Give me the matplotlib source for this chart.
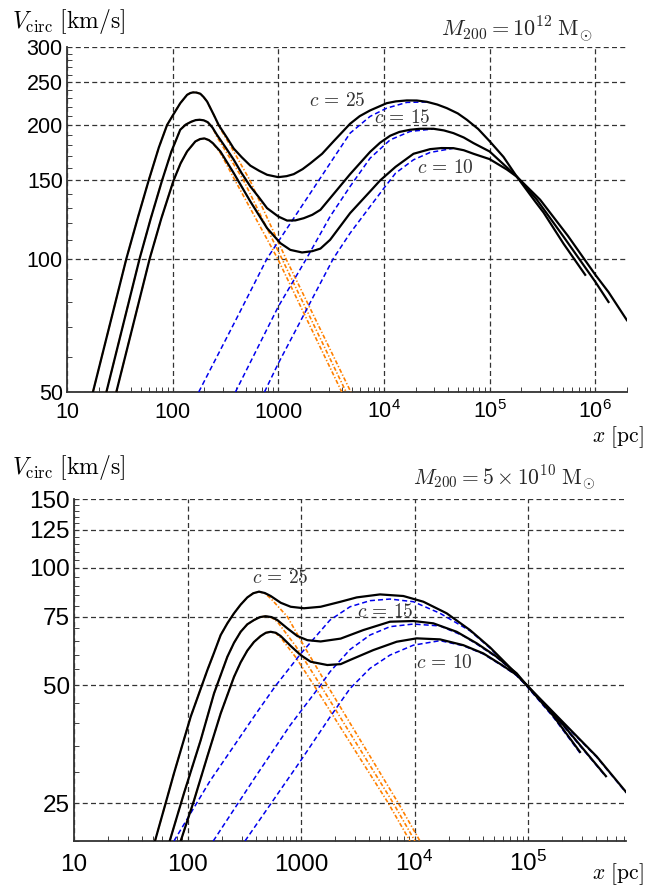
import math
import matplotlib
matplotlib.use("Agg")
import matplotlib.pyplot as plt
from matplotlib.ticker import FixedLocator, FuncFormatter, NullFormatter, LogLocator

plt.rcParams['font.family'] = ['Liberation Sans', 'DejaVu Sans']
plt.rcParams['mathtext.fontset'] = 'cm'

# ---------------- top panel: M200 = 1e12 Msun ----------------
# total rotation curves (x in pc, v in km/s)
top_c25_x = [17.6, 36.5, 47, 59.3, 74, 88.5, 100, 118, 137, 147, 156, 168, 183, 196, 212, 245, 273, 330, 379,
             450, 544, 660, 783, 1000, 1200, 1400, 1700, 2013, 2600, 3350, 4786, 5900, 7396, 10640, 13000,
             16480, 20500, 25470, 32000, 39380, 50000, 60940, 78000, 100000, 135500, 181100, 270000, 324300,
             501700, 804000]
top_c25_v = [50, 100, 124, 150, 178, 200, 210, 224, 234, 236.2, 237, 236.8, 235.3, 231.5, 226, 211, 200, 186.6,
             177, 169.3, 162, 157.7, 154.5, 152.6, 153.4, 155, 159.1, 164, 172.3, 184, 201.4, 209.5, 215.8,
             224.1, 226.2, 227.3, 227.2, 225.7, 222.5, 218.4, 212.5, 205.6, 196, 184, 169.5, 153, 134.5, 127,
             108, 91.9]
top_c15_x = [23.6, 48.7, 62, 79.4, 97, 118, 133, 150, 165, 180, 197, 215, 238, 263, 320, 379, 450, 544, 650,
             783, 1000, 1211, 1450, 1742, 2100, 2507, 3094, 4786, 7396, 9200, 11450, 14000, 17710, 22000,
             29430, 37000, 45500, 57000, 70470, 100000, 135000, 181100, 280600, 501700, 1000000, 1337000]
top_c15_v = [50, 100, 123, 150, 174, 195.2, 200.5, 203.5, 205.2, 205.6, 205, 203, 197.5, 190, 177.5, 167,
             155.8, 145.4, 137.8, 129.9, 124.4, 121.8, 121.9, 123.3, 125.5, 128.8, 136.8, 155, 174, 182.5,
             189.2, 193, 195.2, 196.2, 196.2, 194.5, 191.8, 187.5, 182.1, 174.4, 163.3, 153, 135.7, 112, 88.7,
             79.8]
top_c10_x = [29.3, 60.7, 78, 102, 119, 137, 164, 182, 200, 220, 240, 283, 379, 544, 783, 1047, 1300, 1679,
             2100, 2507, 3094, 4786, 7396, 9200, 12890, 19050, 27370, 35000, 45500, 57000, 70470, 100000,
             145600, 181100, 301300, 550000, 1000000, 1337000, 1995000]
top_c10_v = [50, 100, 123, 150, 164, 174.4, 183.7, 186, 186.6, 185, 182.1, 174.4, 155.8, 134.5, 117.1, 108.3,
             104.6, 103.2, 103.9, 105.3, 110.2, 126.6, 141.7, 150, 161, 172.3, 176.5, 177.5, 177.4, 175.5,
             172.3, 167.6, 158.8, 153, 135.7, 112.6, 92, 84, 72.6]
# halo (blue dashed)
top_h25_x = [176.6, 400, 783, 2415, 3094, 4786, 7396, 10640, 16480, 25470]
top_h25_v = [50, 73, 100, 150, 164, 191.8, 209.2, 218.4, 225, 225.5]
top_h15_x = [393, 1000, 1850, 3094, 4786, 7396, 11450, 17710, 29430]
top_h15_v = [50, 77.9, 100, 124.4, 145.4, 168.4, 185.2, 193.5, 196]
top_h10_x = [740, 1000, 3320, 4786, 7396, 10000, 12890, 19050, 27370, 45500]
top_h10_v = [50, 58, 100, 114.1, 131, 144.1, 155.8, 167, 173.5, 177.3]
# baryons (orange dash-dot)
top_d25_x = [17.6, 36.5, 47, 59.3, 74, 88.5, 100, 118, 137, 147, 156, 168, 183, 196, 212, 245, 273, 351, 540,
             1180, 4864]
top_d25_v = [50, 100, 124, 150, 178, 200, 210, 224, 234, 236.2, 237, 236.8, 235.3, 231.5, 226, 211, 199, 180,
             150, 100, 50]
top_d15_x = [23.6, 48.7, 62, 79.4, 97, 118, 133, 150, 165, 180, 197, 215, 238, 263, 470, 1080, 4385]
top_d15_v = [50, 100, 123, 150, 174, 195.2, 200.5, 203.5, 205.2, 205.6, 205, 203, 197.5, 188, 150, 100, 50]
top_d10_x = [29.3, 60.7, 78, 102, 119, 137, 164, 182, 200, 220, 240, 283, 390, 985, 3990]
top_d10_v = [50, 100, 123, 150, 164, 174.4, 183.7, 186, 186.6, 185, 182, 173, 150, 100, 50]

# ---------------- bottom panel: M200 = 5e10 Msun ----------------
bot_c25_x = [51.7, 64.2, 76.0, 106.7, 149.5, 171.2, 196, 224.4, 256.9, 294, 336.5, 380, 426.6, 480, 540.7,
             662.5, 811.5, 1062, 1489, 2235, 3094, 4966, 7972, 11970, 19200, 30830, 46240, 64870, 95000,
             167000, 287000]
bot_c25_v = [20, 25, 29.8, 41.6, 54.7, 60.6, 67.3, 72.1, 76.5, 80.5, 84.0, 86.1, 86.9, 86.2, 84.7,
             81.4, 79.5, 78.8, 79.5, 81.9, 84.0, 85.5, 84.7, 81.9, 76.5, 69.3, 62.6, 56.7, 50.5, 41.8, 33.8]
bot_c15_x = [69.7, 93.1, 130.6, 171.2, 224.4, 256.9, 294, 336.5, 385, 435, 488.4, 550, 618.8, 758, 928.5, 1137,
             1489, 2235, 3540, 6080, 9769, 14660, 23530, 35320, 52990, 79500, 95000, 204600, 486000]
bot_c15_v = [20, 26.5, 36.2, 47.7, 59.2, 64.3, 68.6, 71.7, 73.5, 74.8, 75.2, 74.8, 73.5, 70.0, 66.9, 65.3,
             64.8, 65.9, 69.3, 72.8, 73.1, 72.1, 68.6, 64.1, 59.2, 53.7, 50.5, 39.6, 29.3]
bot_c10_x = [87.1, 114.1, 149.5, 196, 256.9, 294, 336.5, 385, 441.2, 490, 540.2, 600, 662.5, 811.5, 993, 1217,
             1706, 2235, 2703, 4339, 6966, 10450, 16780, 26930, 40380, 60640, 79500, 95000, 204600, 402600,
             730000]
bot_c10_v = [20, 25.4, 32.9, 42.4, 52.6, 57.3, 61.4, 64.6, 66.9, 68.2, 68.6, 68.2, 66.9, 63.1, 59.8, 57.5,
             56.4, 56.7, 58.1, 61.6, 64.7, 66.0, 65.6, 63.4, 60.4, 56.1, 53.2, 50.5, 40.2, 32.9, 26.7]
bot_h25_x = [76, 158, 398, 600, 1000, 1801, 2703, 4054, 6080, 9769, 16780, 30830, 46240, 64870, 95000,
             167000, 287000]
bot_h25_v = [20, 28.5, 42.2, 50, 60.4, 73.5, 79.5, 82.4, 83.2, 81.9, 76.5, 69.0, 62.3, 56.4, 50.2, 41.5, 33.6]
bot_h15_x = [168.6, 400, 800, 1480, 1801, 2703, 4054, 6080, 9769, 16780, 26930, 35320, 52990, 79500, 95000,
             204600, 486000]
bot_h15_v = [20, 29.3, 39.5, 50, 54.2, 61.8, 67.3, 70.7, 71.8, 71.0, 67.0, 63.8, 59.0, 53.5, 50.3, 39.4, 29.2]
bot_h10_x = [321, 547, 1000, 1800, 2703, 4054, 6080, 9769, 16780, 26930, 40380, 60640, 79500, 95000, 204600,
             402600, 730000]
bot_h10_v = [20, 25, 32.2, 41.5, 49.1, 55.3, 59.8, 63.4, 65.1, 63.2, 60.2, 55.9, 53.0, 50.3, 40.0, 32.8, 26.6]
bot_d25_x = [51.7, 64.2, 76.0, 106.7, 149.5, 171.2, 196, 224.4, 256.9, 294, 336.5, 380, 426.6, 480, 541, 758,
             1100, 1706, 7200, 11170]
bot_d25_v = [20, 25, 29.8, 41.6, 54.7, 60.6, 67.3, 72.1, 76.5, 80.5, 84.0, 86.1, 86.9, 86.0, 83.5, 75.0,
             62.0, 50.0, 25.0, 20.0]
bot_d15_x = [69.7, 93.1, 130.6, 171.2, 224.4, 256.9, 294, 336.5, 385, 435, 488.4, 550, 619, 900, 1489, 6500,
             10090]
bot_d15_v = [20, 26.5, 36.2, 47.7, 59.2, 64.3, 68.6, 71.7, 73.5, 74.8, 75.2, 74.6, 72.8, 63.0, 50.0, 25.0, 20.0]
bot_d10_x = [87.1, 114.1, 149.5, 196, 256.9, 294, 336.5, 385, 441.2, 490, 540.2, 600, 662, 900, 1303, 5875,
             9120]
bot_d10_v = [20, 25.4, 32.9, 42.4, 52.6, 57.3, 61.4, 64.6, 66.9, 68.2, 68.6, 68.0, 66.3, 59.0, 50.0, 25.0, 20.0]

top_yticks = [50, 100, 150, 200, 250, 300]
bot_yticks = [25, 50, 75, 100, 125, 150]
top_xticks = [10, 100, 1000, 1e4, 1e5, 1e6]
bot_xticks = [10, 100, 1000, 1e4, 1e5]

W, H = 654, 888
fig = plt.figure(figsize=(W / 100, H / 100), dpi=100)


def xfmt(v, pos):
    if v < 1e4:
        return '%d' % round(v)
    return r'$\mathdefault{10^{%d}}$' % round(math.log10(v))


def setup(ax, xlim, ylim, xticks, yticks, yminor, xpad, lsize):
    ax.set_xscale('log')
    ax.set_yscale('log')
    ax.set_xlim(*xlim)
    ax.set_ylim(*ylim)
    ax.xaxis.set_major_locator(FixedLocator(xticks))
    ax.xaxis.set_major_formatter(FuncFormatter(xfmt))
    ax.xaxis.set_minor_locator(LogLocator(base=10, subs=range(2, 10), numticks=20))
    ax.xaxis.set_minor_formatter(NullFormatter())
    ax.yaxis.set_major_locator(FixedLocator(yticks))
    ax.yaxis.set_major_formatter(FuncFormatter(lambda v, p: '%d' % round(v)))
    ax.yaxis.set_minor_locator(FixedLocator(yminor))
    ax.yaxis.set_minor_formatter(NullFormatter())
    ax.tick_params(which='both', direction='in', top=False, right=False, colors='0.25', labelcolor='k',
                   labelsize=lsize)
    ax.tick_params(which='major', length=0)
    ax.tick_params(which='minor', length=3.5, width=0.7)
    ax.tick_params(axis='y', pad=3)
    ax.tick_params(axis='x', pad=xpad)
    for lab in ax.get_xticklabels():
        lab.set_verticalalignment('baseline')
    ax.grid(True, which='major', color='0.2', lw=0.9, ls=(0, (4, 2.6)))
    ax.set_axisbelow(True)
    for s in ['top', 'right']:
        ax.spines[s].set_visible(False)
    for s in ['left', 'bottom']:
        ax.spines[s].set_color('0.2')
        ax.spines[s].set_linewidth(1.3)


def curves(ax, disks, halos, totals):
    for x, v in disks:
        ax.plot(x, v, color='#ff8000', lw=1.2, ls=(0, (2.5, 1.2, 0.8, 1.2)), zorder=3)
    for x, v in halos:
        ax.plot(x, v, color='#0000ee', lw=1.1, ls=(0, (3.3, 2.0)), zorder=3)
    for x, v in totals:
        ax.plot(x, v, color='k', lw=1.6, zorder=4)


ax1 = fig.add_axes([67 / W, 1 - 392 / H, 560 / W, 345 / H])
setup(ax1, (10, 2e6), (50, 300), top_xticks, top_yticks,
      [v for v in range(60, 300, 10) if v not in top_yticks], 19, 15.5)
curves(ax1,
       [(top_d25_x, top_d25_v), (top_d15_x, top_d15_v), (top_d10_x, top_d10_v)],
       [(top_h25_x, top_h25_v), (top_h15_x, top_h15_v), (top_h10_x, top_h10_v)],
       [(top_c25_x, top_c25_v), (top_c15_x, top_c15_v), (top_c10_x, top_c10_v)])

ax2 = fig.add_axes([74 / W, 1 - 841 / H, 552 / W, 342 / H])
setup(ax2, (10, 7.3e5), (20, 150), bot_xticks, bot_yticks,
      [v for v in range(20, 150, 5) if v not in bot_yticks], 21.5, 17.5)
curves(ax2,
       [(bot_d25_x, bot_d25_v), (bot_d15_x, bot_d15_v), (bot_d10_x, bot_d10_v)],
       [(bot_h25_x, bot_h25_v), (bot_h15_x, bot_h15_v), (bot_h10_x, bot_h10_v)],
       [(bot_c25_x, bot_c25_v), (bot_c15_x, bot_c15_v), (bot_c10_x, bot_c10_v)])


def ftext(px, py, s, size=14, ha='center', color='k'):
    fig.text(px / W, 1 - py / H, s, fontsize=size, ha=ha, va='center', color=color)


ylab = r'$V_{\mathrm{circ}}\ [\mathrm{km/s}]$'
xlab = r'$x\ [\mathrm{pc}]$'
ftext(12, 21, ylab, 17, ha='left')
ftext(12, 468, ylab, 17, ha='left')
ftext(618, 437, xlab, 15.5)
ftext(618, 874, xlab, 15.5)
ftext(517, 29, r'$M_{200} = 10^{12}\;\mathrm{M}_{\odot}$', 16, color='0.15')
ftext(504, 478, r'$M_{200} = 5\times10^{10}\;\mathrm{M}_{\odot}$', 15.5, color='0.15')

lab_color = '0.2'
ftext(337, 101, r'$c\,=\,25$', 14, color=lab_color)
ftext(402, 118, r'$c\,=\,15$', 14, color=lab_color)
ftext(445, 168, r'$c\,=\,10$', 14, color=lab_color)
ftext(280, 578, r'$c\,=\,25$', 14, color=lab_color)
ftext(385, 612, r'$c\,=\,15$', 14, color=lab_color)
ftext(444, 663, r'$c\,=\,10$', 14, color=lab_color)

fig.savefig('out.png', dpi=100)
